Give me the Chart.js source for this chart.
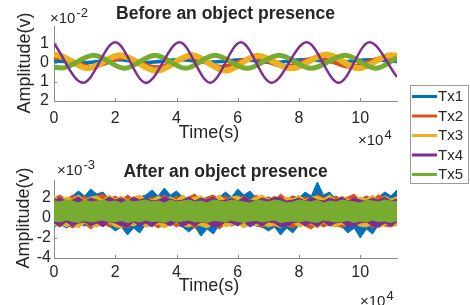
<!DOCTYPE html>
<html>
<head>
<meta charset="utf-8">
<script src="https://cdn.jsdelivr.net/npm/chart.js@4.4.1/dist/chart.umd.min.js"></script>
<style>
  html, body { margin: 0; padding: 0; background: #ffffff; }
  #wrap { position: relative; width: 470px; height: 305px; }
  #wrap canvas { position: absolute; left: 0; top: 0; }
</style>
</head>
<body>
<div id="wrap">
  <canvas id="topChart" width="470" height="305"></canvas>
  <canvas id="botChart" width="470" height="305"></canvas>
</div>
<script>
// ---------- series names / colours ----------
const seriesNames  = ['Tx1', 'Tx2', 'Tx3', 'Tx4', 'Tx5'];
const seriesColors = ['#0072BD', '#D95319', '#EDB120', '#7E2F8E', '#77AC30'];

// ---------- tick values and labels ----------
const xTicks          = [0, 2, 4, 6, 8, 10];             // ×10^4 s
const xTickLabels     = ['0', '2', '4', '6', '8', '10'];
const topYTicks       = [-2, -1, 0, 1];                  // ×10^-2 V
const topYTickLabels  = ['2', '1', '0', '1'];             // as printed in the figure
const botYTicks       = [-4, -2, 0, 2];                  // ×10^-3 V
const botYTickLabels  = ['-4', '-2', '0', '2'];

// ---------- "Before an object presence" (×10^-2 V), read at extrema ----------
const tx1BeforeT = [0, 1.0, 2.05, 3.05, 4.1, 5.1, 6.15, 7.15, 8.2, 9.25, 10.3, 11.2];
const tx1BeforeV = [0.08, 0.0, 0.14, 0.0, 0.15, 0.02, 0.14, 0.0, 0.16, 0.02, 0.14, 0.05];
const tx2BeforeT = [0, 0.2, 1.25, 2.3, 3.35, 4.4, 5.45, 6.5, 7.55, 8.6, 9.65, 10.75, 11.2];
const tx2BeforeV = [0.22, 0.25, -0.22, 0.25, -0.25, 0.25, -0.22, 0.24, -0.2, 0.25, -0.22, 0.24, 0.15];
const tx3BeforeT = [0, 0.05, 1.1, 2.15, 3.35, 4.5, 5.6, 6.65, 7.75, 8.9, 9.95, 11.0, 11.2];
const tx3BeforeV = [0.4, 0.4, -0.3, 0.38, -0.42, 0.38, -0.42, 0.35, -0.3, 0.42, -0.3, 0.38, 0.36];
const tx4BeforeT = [0, 0.95, 2.0, 3.0, 4.1, 5.1, 6.1, 7.1, 8.25, 9.3, 10.3, 11.2];
const tx4BeforeV = [1.0, -1.05, 1.05, -1.05, 1.05, -1.05, 1.05, -1.05, 1.05, -1.05, 1.05, -0.75];
const tx5BeforeT = [0, 0.25, 1.3, 2.3, 3.3, 4.3, 5.25, 6.3, 7.35, 8.4, 9.5, 10.5, 11.2];
const tx5BeforeV = [-0.25, -0.28, 0.38, -0.3, 0.38, -0.3, 0.38, -0.3, 0.38, -0.3, 0.38, -0.3, 0.25];

// ---------- "After an object presence" (×10^-3 V): noise envelope per series ----------
const afterT = [0, 0.2, 0.4, 0.6, 0.8, 1, 1.2, 1.4, 1.6, 1.8,
                2, 2.2, 2.4, 2.6, 2.8, 3, 3.2, 3.4, 3.6, 3.8,
                4, 4.2, 4.4, 4.6, 4.8, 5, 5.2, 5.4, 5.6, 5.8,
                6, 6.2, 6.4, 6.6, 6.8, 7, 7.2, 7.4, 7.6, 7.8,
                8, 8.2, 8.4, 8.6, 8.8, 9, 9.2, 9.4, 9.6, 9.8,
                10, 10.2, 10.4, 10.6, 10.8, 11, 11.2];
const tx1AfterHi = [1.9, 2.1, 1.8, 2.2, 2.7, 2.2, 2.9, 2.4, 2.6, 1.9,
                    2.1, 1.8, 2.0, 1.9, 2.1, 2.3, 2.8, 2.2, 3.0, 2.3,
                    2.7, 2.1, 1.9, 2.2, 1.8, 2.0, 1.9, 2.1, 2.6, 2.1,
                    2.9, 2.3, 2.7, 2.0, 1.8, 2.1, 1.9, 2.0, 1.8, 2.2,
                    2.0, 2.6, 2.2, 3.6, 2.3, 2.6, 1.9, 2.1, 1.8, 2.0,
                    1.9, 2.2, 1.9, 2.1, 2.6, 2.2, 2.8];
const tx1AfterLo = [-0.9, -0.6, -1.0, -0.7, -0.5, -0.8, -0.6, -0.7, -0.5, -0.8,
                    -1.3, -0.9, -1.7, -1.0, -1.5, -0.6, -0.7, -0.5, -0.8, -0.6,
                    -0.7, -0.9, -1.4, -0.9, -1.8, -1.1, -1.6, -0.7, -0.6, -0.8,
                    -0.5, -0.7, -0.6, -0.8, -0.9, -1.3, -0.9, -1.7, -1.0, -1.5,
                    -0.7, -0.6, -0.8, -0.5, -0.7, -0.6, -0.8, -0.9, -1.5, -1.0,
                    -2.0, -1.1, -1.6, -0.7, -0.6, -0.8, -0.7];
const tx2AfterHi = [2.0, 2.3, 1.8, 2.3, 1.9, 2.2, 1.8, 2.2, 2.4, 1.9,
                    2.2, 1.8, 2.3, 1.9, 2.2, 1.8, 2.1, 1.9, 2.3, 1.8,
                    2.2, 1.9, 2.1, 2.4, 1.8, 2.1, 2.3, 1.9, 2.2, 1.8,
                    2.0, 2.2, 1.8, 2.3, 1.9, 2.1, 1.8, 2.4, 1.9, 2.2,
                    1.8, 2.1, 1.9, 2.3, 2.1, 1.8, 2.2, 1.9, 2.1, 2.4,
                    1.8, 2.2, 1.9, 2.3, 2.1, 1.8, 2.2];
const tx2AfterLo = [-0.6, -0.9, -0.5, -1.0, -0.7, -0.6, -1.1, -0.6, -0.5, -0.9,
                    -0.6, -0.8, -1.0, -0.6, -0.5, -0.9, -0.6, -1.0, -0.7, -0.5,
                    -0.9, -0.5, -0.8, -1.0, -0.6, -0.9, -0.6, -1.1, -0.6, -0.8,
                    -0.5, -0.9, -0.7, -0.5, -1.0, -0.6, -0.9, -0.5, -0.8, -1.0,
                    -0.6, -0.8, -1.1, -0.6, -0.9, -0.6, -0.5, -1.0, -0.7, -0.5,
                    -0.9, -0.6, -1.0, -0.6, -0.8, -0.9, -0.6];
const tx3AfterHi = [2.2, 1.8, 2.1, 1.9, 2.3, 1.8, 2.1, 2.2, 1.8, 2.3,
                    1.9, 2.2, 1.8, 2.1, 2.3, 1.9, 1.8, 2.2, 1.9, 2.1,
                    1.8, 2.3, 1.9, 2.1, 2.2, 1.8, 1.9, 2.3, 1.8, 2.1,
                    2.2, 1.9, 1.8, 2.1, 2.3, 1.9, 2.2, 1.8, 2.1, 1.9,
                    2.3, 1.8, 2.1, 2.2, 1.9, 2.3, 1.8, 2.2, 1.9, 1.8,
                    2.1, 1.9, 2.3, 1.8, 2.2, 1.9, 2.1];
const tx3AfterLo = [-0.8, -0.5, -0.9, -0.6, -1.0, -0.5, -0.8, -0.9, -0.6, -0.5,
                    -0.9, -1.0, -0.6, -0.8, -0.5, -0.9, -0.8, -0.6, -1.0, -0.7,
                    -0.5, -0.8, -0.9, -0.6, -0.8, -1.0, -0.6, -0.5, -0.9, -0.7,
                    -0.6, -1.0, -0.5, -0.8, -0.6, -0.9, -0.7, -1.0, -0.6, -0.5,
                    -0.9, -0.7, -0.6, -1.0, -0.5, -0.8, -0.9, -0.6, -0.8, -0.5,
                    -0.8, -0.9, -0.6, -1.0, -0.7, -0.5, -0.8];
const tx4AfterHi = [1.8, 2.0, 1.7, 1.8, 2.1, 1.7, 2.0, 1.8, 1.7, 2.1,
                    1.8, 2.0, 1.7, 2.1, 1.8, 2.0, 1.7, 1.8, 2.1, 1.9,
                    1.7, 1.8, 2.1, 1.7, 2.0, 1.8, 2.1, 1.7, 1.8, 2.0,
                    1.7, 2.1, 1.8, 1.7, 2.0, 1.8, 2.1, 2.0, 1.7, 1.8,
                    2.0, 1.7, 2.1, 1.8, 1.7, 2.0, 1.8, 2.1, 1.7, 2.0,
                    1.8, 1.7, 2.0, 1.8, 2.1, 1.7, 1.9];
const tx4AfterLo = [-0.5, -0.8, -0.4, -0.8, -0.5, -0.4, -0.8, -0.5, -0.9, -0.4,
                    -0.5, -0.8, -0.9, -0.4, -0.8, -0.5, -0.9, -0.4, -0.5, -0.8,
                    -0.4, -0.9, -0.5, -0.8, -0.4, -0.5, -0.9, -0.8, -0.4, -0.5,
                    -0.8, -0.4, -0.9, -0.5, -0.8, -0.4, -0.5, -0.9, -0.8, -0.5,
                    -0.4, -0.8, -0.5, -0.9, -0.4, -0.8, -0.5, -0.4, -0.9, -0.8,
                    -0.5, -0.4, -0.8, -0.9, -0.5, -0.8, -0.4];
const tx5AfterHi = [1.7, 1.6, 1.8, 1.7, 1.5, 1.8, 1.6, 1.7, 1.8, 1.6,
                    1.7, 1.5, 1.8, 1.6, 1.7, 1.8, 1.6, 1.7, 1.5, 1.8,
                    1.6, 1.7, 1.8, 1.6, 1.7, 1.5, 1.8, 1.7, 1.6, 1.8,
                    1.7, 1.6, 1.5, 1.8, 1.7, 1.6, 1.8, 1.7, 1.5, 1.6,
                    1.8, 1.7, 1.6, 1.8, 1.5, 1.7, 1.6, 1.8, 1.7, 1.6,
                    1.5, 1.8, 1.7, 1.6, 1.8, 1.7, 1.6];
const tx5AfterLo = [-0.3, -0.4, -0.2, -0.35, -0.45, -0.25, -0.4, -0.3, -0.2, -0.4,
                    -0.35, -0.25, -0.45, -0.3, -0.4, -0.2, -0.35, -0.3, -0.45, -0.25,
                    -0.4, -0.3, -0.2, -0.4, -0.35, -0.45, -0.25, -0.3, -0.4, -0.2,
                    -0.35, -0.45, -0.3, -0.25, -0.4, -0.3, -0.2, -0.45, -0.35, -0.3,
                    -0.4, -0.25, -0.35, -0.45, -0.2, -0.3, -0.4, -0.35, -0.25, -0.45,
                    -0.3, -0.4, -0.2, -0.35, -0.3, -0.45, -0.25];

// ---------- helpers ----------
const FONT = "'Liberation Sans', Arial, Helvetica, sans-serif";
const TEXT = '#262626';
const AXIS = '#8a8a8a';
const pairs = (xs, ys) => xs.map((x, i) => ({ x: x, y: ys[i] }));

const beforeT = [tx1BeforeT, tx2BeforeT, tx3BeforeT, tx4BeforeT, tx5BeforeT];
const beforeV = [tx1BeforeV, tx2BeforeV, tx3BeforeV, tx4BeforeV, tx5BeforeV];
const beforeWidth = [3.5, 4, 6, 2.5, 5];
const beforeOrder = [5, 4, 3, 1, 2];
const afterHi = [tx1AfterHi, tx2AfterHi, tx3AfterHi, tx4AfterHi, tx5AfterHi];
const afterLo = [tx1AfterLo, tx2AfterLo, tx3AfterLo, tx4AfterLo, tx5AfterLo];

// inward MATLAB-style tick marks
const inwardTicks = {
  id: 'inwardTicks',
  afterDatasetsDraw(chart) {
    const { ctx, chartArea: a, scales: { x, y } } = chart;
    ctx.save();
    ctx.strokeStyle = AXIS;
    ctx.lineWidth = 1;
    ctx.beginPath();
    x.ticks.forEach(t => {
      const px = Math.round(x.getPixelForValue(t.value)) + 0.5;
      ctx.moveTo(px, a.bottom); ctx.lineTo(px, a.bottom - 3);
    });
    y.ticks.forEach(t => {
      const py = Math.round(y.getPixelForValue(t.value)) + 0.5;
      ctx.moveTo(a.left, py); ctx.lineTo(a.left + 3, py);
    });
    ctx.stroke();
    ctx.restore();
  }
};

// titles, axis labels and exponent labels
const decor = {
  id: 'decor',
  afterDraw(chart, args, o) {
    const { ctx, chartArea: a } = chart;
    ctx.save();
    ctx.fillStyle = TEXT;
    ctx.textBaseline = 'alphabetic';
    ctx.font = 'bold 17.5px ' + FONT;
    ctx.textAlign = 'center';
    ctx.fillText(o.title, (a.left + a.right) / 2, o.titleY);
    ctx.textAlign = 'left';
    ctx.font = '15px ' + FONT;
    ctx.fillText('\u00d710', o.yExpX, o.yExpY);
    let w = ctx.measureText('\u00d710').width;
    ctx.font = '13px ' + FONT;
    ctx.fillText(o.yExp, o.yExpX + w + 1, o.yExpY - 6);
    ctx.font = '15px ' + FONT;
    ctx.fillText('\u00d710', o.xExpX, o.xExpY);
    w = ctx.measureText('\u00d710').width;
    ctx.font = '13px ' + FONT;
    ctx.fillText('4', o.xExpX + w + 1, o.xExpY - 6);
    ctx.font = '18px ' + FONT;
    ctx.textAlign = 'center';
    ctx.fillText('Time(s)', 209, o.xLabelY);
    ctx.save();
    ctx.translate(o.yLabelX, o.yLabelCY);
    ctx.rotate(-Math.PI / 2);
    ctx.textBaseline = 'middle';
    ctx.fillText('Amplitude(v)', 0, 0);
    ctx.restore();
    ctx.restore();
  }
};

// shared legend box (drawn once, on the lower canvas)
const boxLegend = {
  id: 'boxLegend',
  afterDraw(chart) {
    const { ctx } = chart;
    const items = chart.data.datasets.filter(d => !d.isLow);
    ctx.save();
    ctx.fillStyle = '#ffffff';
    ctx.fillRect(410, 85, 59, 98);
    ctx.strokeStyle = '#9a9a9a';
    ctx.lineWidth = 1;
    ctx.strokeRect(410.5, 85.5, 58, 98);
    ctx.font = '15px ' + FONT;
    ctx.textBaseline = 'middle';
    ctx.textAlign = 'left';
    items.forEach((d, i) => {
      const yy = 96.5 + i * 19.5;
      ctx.strokeStyle = d.borderColor;
      ctx.lineWidth = 3;
      ctx.beginPath();
      ctx.moveTo(412, yy); ctx.lineTo(437, yy);
      ctx.stroke();
      ctx.fillStyle = TEXT;
      ctx.fillText(d.label, 438, yy + 0.5);
    });
    ctx.restore();
  }
};

function xScale(height, pad) {
  return {
    type: 'linear', min: 0, max: 11.2,
    afterBuildTicks: s => { s.ticks = xTicks.map(v => ({ value: v })); },
    afterFit: s => { s.height = height; },
    ticks: { autoSkip: false, maxRotation: 0, padding: pad, color: TEXT,
             font: { family: FONT, size: 16 },
             callback: (v, i) => xTickLabels[i] },
    grid: { drawOnChartArea: false, drawTicks: false },
    border: { display: true, color: AXIS, width: 1 }
  };
}
function yScale(min, max, vals, labels, pad) {
  return {
    type: 'linear', min: min, max: max,
    afterBuildTicks: s => { s.ticks = vals.map(v => ({ value: v })); },
    afterFit: s => { s.width = 54; },
    ticks: { padding: pad, color: TEXT, font: { family: FONT, size: 16 },
             callback: (v, i) => labels[i] },
    grid: { drawOnChartArea: false, drawTicks: false },
    border: { display: true, color: AXIS, width: 1 }
  };
}

// ---------- top chart ----------
new Chart(document.getElementById('topChart'), {
  type: 'line',
  data: {
    datasets: seriesNames.map((n, k) => ({
      label: n,
      data: pairs(beforeT[k], beforeV[k]),
      borderColor: seriesColors[k],
      borderWidth: beforeWidth[k],
      pointRadius: 0,
      cubicInterpolationMode: 'monotone',
      fill: false,
      order: beforeOrder[k]
    }))
  },
  options: {
    responsive: false, animation: false, devicePixelRatio: 1, events: [],
    layout: { padding: { top: 26, right: 73, bottom: 0, left: 0 } },
    plugins: {
      legend: { display: false }, tooltip: { enabled: false },
      decor: { title: 'Before an object presence', titleY: 18.5,
               yExp: '-2', yExpX: 50, yExpY: 23,
               xExpX: 358, xExpY: 145, xLabelY: 138,
               yLabelX: 25, yLabelCY: 63 }
    },
    scales: {
      x: xScale(204, 8),
      y: yScale(-2, 1.9, topYTicks, topYTickLabels, 5)
    }
  },
  plugins: [inwardTicks, decor]
});

// ---------- bottom chart ----------
const botSets = [];
seriesNames.forEach((n, k) => {
  botSets.push({
    label: n, data: pairs(afterT, afterHi[k]),
    borderColor: seriesColors[k], borderWidth: 1, pointRadius: 0,
    tension: 0, fill: false, order: 5 - k
  });
  botSets.push({
    label: n + ' low', isLow: true, data: pairs(afterT, afterLo[k]),
    borderColor: seriesColors[k], backgroundColor: seriesColors[k],
    borderWidth: 1, pointRadius: 0, tension: 0, fill: '-1', order: 5 - k
  });
});

new Chart(document.getElementById('botChart'), {
  type: 'line',
  data: { datasets: botSets },
  options: {
    responsive: false, animation: false, devicePixelRatio: 1, events: [],
    layout: { padding: { top: 180, right: 73, bottom: 0, left: 0 } },
    plugins: {
      legend: { display: false }, tooltip: { enabled: false },
      filler: { propagate: false },
      decor: { title: 'After an object presence', titleY: 177,
               yExp: '-3', yExpX: 57, yExpY: 175,
               xExpX: 360, xExpY: 306, xLabelY: 291,
               yLabelX: 24, yLabelCY: 218 }
    },
    scales: {
      x: xScale(47, 5),
      y: yScale(-4, 3.8, botYTicks, botYTickLabels, 3)
    }
  },
  plugins: [inwardTicks, decor, boxLegend]
});
</script>
</body>
</html>
